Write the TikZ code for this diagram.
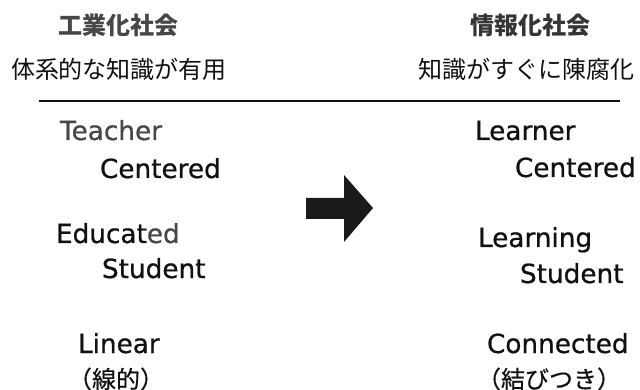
\documentclass[tikz,border=0pt]{standalone}
\usepackage{fontspec}
\setmainfont{DejaVu Sans}
\newfontfamily\lat[FakeBold=0.7]{DejaVu Sans}
\newfontfamily\cjk{Noto Sans CJK JP}
\newfontfamily\cjkm[FakeBold=0.5]{Noto Sans CJK JP}
\definecolor{ink}{HTML}{111111}
\definecolor{grayink}{HTML}{474747}
\definecolor{headA}{HTML}{474747}
\definecolor{headB}{HTML}{353535}
\definecolor{arrowink}{HTML}{1A1A1A}
\begin{document}
\begin{tikzpicture}[x=1pt,y=-1pt,
  every node/.style={inner sep=0pt,outer sep=0pt},
  head/.style={font=\cjk\bfseries\fontsize{24}{28}\selectfont},
  sub/.style={font=\cjk\fontsize{24}{28}\selectfont,text=ink},
  word/.style={anchor=base west,font=\lat\fontsize{26.3}{30}\selectfont,text=ink},
  jp/.style={font=\cjkm\fontsize{24}{28}\selectfont,text=ink}]
\useasboundingbox[fill=white] (0,0) rectangle (640,390);
% headers
\node[head,text=headA] (h1) at (118,25) {工業化社会};
\node[sub] (s1) at (119,69) {体系的な知識が有用};
\node[head,text=headB] (h2) at (530,25) {情報化社会};
\node[sub] (s2) at (526,69) {知識がすぐに陳腐化};
\coordinate (l1) at (39,101);
\coordinate (l2) at (620,101);
\draw[line width=1.2pt,ink] (l1) -- (l2);
% left column
\node[word,text=grayink] (t1) at (60,140) {Teacher};
\node[word] (t2) at (100,178) {Centered};
\node[word] (t3) at (56,243) {Educat\textcolor{grayink}{ed}};
\node[word] (t4) at (102,278) {Student};
\node[word] (t5) at (78,353) {Linear};
\node[jp] (t6) at (116,379) {（線的）};
% right column
\node[word] (r1) at (475,140) {Learner};
\node[word] (r2) at (515,177) {Centered};
\node[word] (r3) at (478,247) {Learning};
\node[word] (r4) at (520,283) {Student};
\node[word] (r5) at (487,353) {Connected};
\node[jp] (r6) at (549,379) {（結びつき）};
% block arrow
\fill[arrowink] (306,198) -- (344,198) -- (344,175) -- (373,208) -- (344,242) -- (344,219) -- (306,219) -- cycle;
\end{tikzpicture}
\end{document}
